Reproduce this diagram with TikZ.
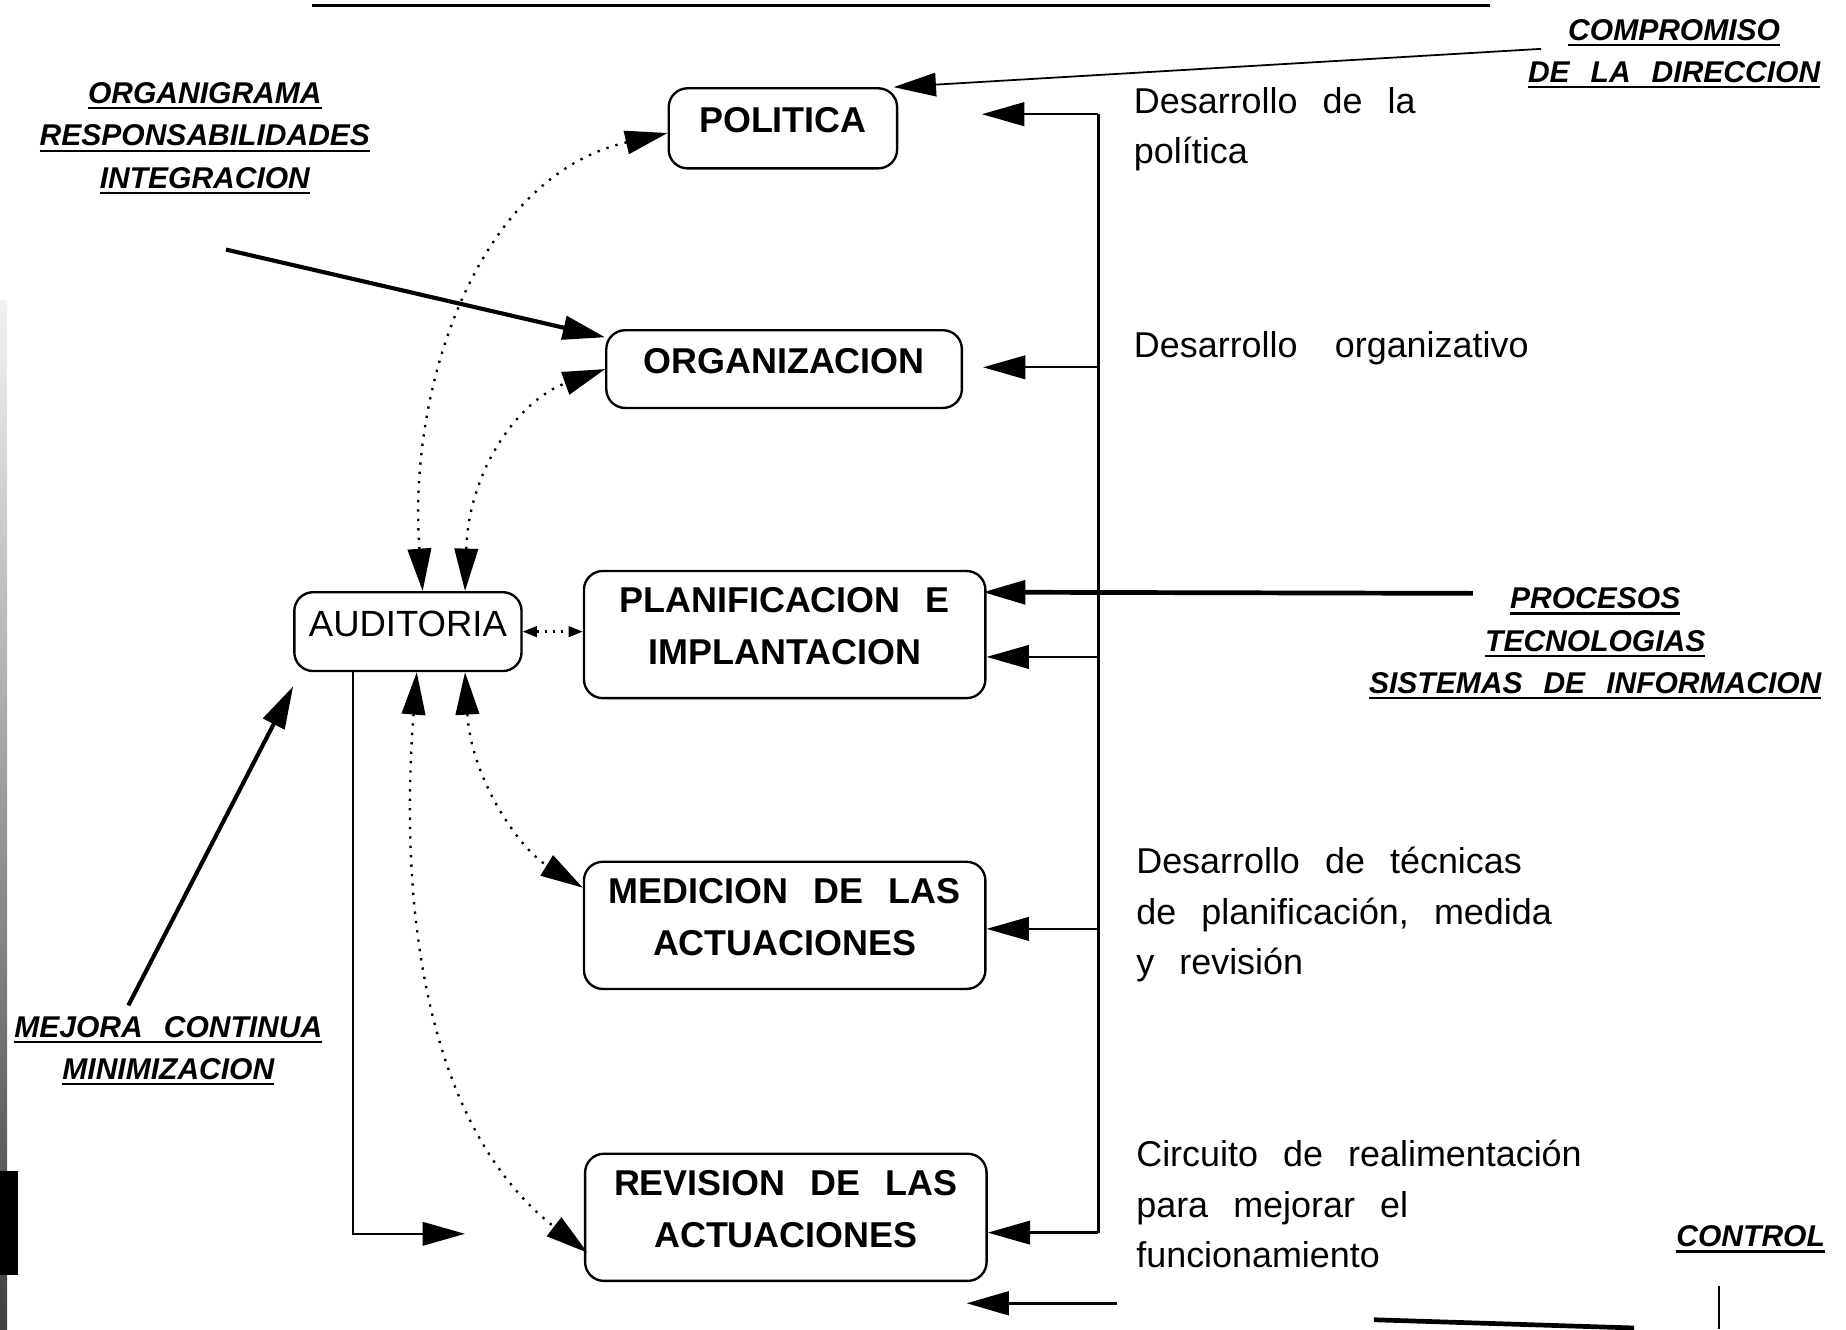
\documentclass[tikz,border=0pt]{standalone}
\usepackage{fontspec}
\setmainfont{Liberation Sans}
\usetikzlibrary{arrows.meta}
\newcommand\gap{\hspace{0.7em}}
\newcommand\myul[1]{\leavevmode\setbox0\hbox{#1}\rlap{\rule[-5pt]{\wd0}{2pt}}\box0}
\newcommand\dstrut{\rule[-14pt]{0pt}{0pt}}
\newcommand\boxfont{\fontsize{30.5}{44}\selectfont\bfseries}
\newcommand\audfont{\fontsize{31}{36}\selectfont}
\newcommand\sidefont{\fontsize{25.5}{36}\selectfont\bfseries\itshape}
\newcommand\descfont{\fontsize{30.5}{43}\selectfont}
\tikzset{
  bigtip/.tip={Triangle[length=36pt,width=20pt]},
  smalltip/.tip={Triangle[length=12pt,width=9pt]},
  procbox/.style={draw, line width=2pt, rounded corners=16pt, inner sep=0pt, align=center, font=\boxfont},
  sidelabel/.style={anchor=base, inner sep=0pt, font=\sidefont},
  desc/.style={anchor=base west, inner sep=0pt, font=\descfont},
  link/.style={line width=2pt},
  thinlink/.style={line width=1.5pt},
  thickarrow/.style={line width=3.5pt, -bigtip},
  dotarrow/.style={line width=2pt, dash pattern=on 2pt off 6pt, bigtip-bigtip},
  smalldot/.style={line width=2pt, dash pattern=on 2pt off 5pt, smalltip-smalltip},
}
\begin{document}
\begin{tikzpicture}[x=1pt,y=-1pt]
\useasboundingbox (0,0) rectangle (1568,1129);

% scan edge artefacts
\shade[top color=black!5, bottom color=black!75] (0,255) rectangle (6,1129);
\fill[black] (0,995) rectangle (15,1083);

% top rule
\draw[line width=2.5pt] (265,5) -- (1266,5);

% boxes
\node[procbox, minimum width=194pt, minimum height=68pt] (pol) at (665,109) {POLITICA\dstrut};
\node[procbox, minimum width=302pt, minimum height=66pt] (org) at (666,313.5) {ORGANIZACION\dstrut};
\node[procbox, minimum width=341pt, minimum height=108pt] (pln) at (666.5,539) {PLANIFICACION\gap E\\IMPLANTACION\dstrut};
\node[procbox, minimum width=341pt, minimum height=108pt] (med) at (666.5,786) {MEDICION\gap DE\gap LAS\\ACTUACIONES\dstrut};
\node[procbox, minimum width=341pt, minimum height=108pt] (rev) at (667.5,1034) {REVISION\gap DE\gap LAS\\ACTUACIONES\dstrut};
\node[procbox, font=\audfont, minimum width=193pt, minimum height=67pt] (aud) at (346.5,536.5) {AUDITORIA\dstrut};

% side labels
\node[sidelabel] (comp1) at (1422,34) {\myul{COMPROMISO}};
\node[sidelabel] (comp2) at (1422,70) {\myul{DE\gap LA\gap DIRECCION}};
\node[sidelabel] (orgl1) at (174,88) {\myul{ORGANIGRAMA}};
\node[sidelabel] (orgl2) at (174,124) {\myul{RESPONSABILIDADES}};
\node[sidelabel] (orgl3) at (174,160) {\myul{INTEGRACION}};
\node[sidelabel] (proc1) at (1355,517) {\myul{PROCESOS}};
\node[sidelabel] (proc2) at (1355,553) {\myul{TECNOLOGIAS}};
\node[sidelabel] (proc3) at (1355,589) {\myul{SISTEMAS\gap DE\gap INFORMACION}};
\node[sidelabel] (mej1) at (143,881) {\myul{MEJORA\gap CONTINUA}};
\node[sidelabel] (mej2) at (143,917) {\myul{MINIMIZACION}};
\node[sidelabel] (ctrl) at (1487,1059) {\myul{CONTROL}};

% descriptions
\node[desc] (d1a) at (963,96) {Desarrollo\gap de\gap la};
\node[desc] (d1b) at (963,139) {política};
\node[desc] (d2) at (963,304) {Desarrollo\hspace{1.04em}organizativo};
\node[desc] (d3a) at (965,742) {Desarrollo\gap de\gap técnicas};
\node[desc] (d3b) at (965,785) {de\gap planificación,\gap medida};
\node[desc] (d3c) at (965,828) {y\gap revisión};
\node[desc] (d4a) at (965,991) {Circuito\gap de\gap realimentación};
\node[desc] (d4b) at (965,1034) {para\gap mejorar\gap el};
\node[desc] (d4c) at (965,1077) {funcionamiento};

% right bus
\coordinate (b1) at (933,97);
\coordinate (b2) at (933,312);
\coordinate (b3) at (933,558);
\coordinate (b4) at (933,789);
\coordinate (b5) at (933,1047);
\coordinate (t1) at (834,97);
\coordinate (t2) at (835,312);
\draw[link] (b1) -- (b5);
\draw[link,-bigtip] (b1) -- (t1);
\draw[link,-bigtip] (b2) -- (t2);
\draw[link,-bigtip] (b3) -- (b3 -| pln.east);
\draw[link,-bigtip] (b4) -- (b4 -| med.east);
\draw[link,-bigtip] (b5) -- (b5 -| rev.east);

% incoming arrows
\coordinate (cstart) at (1309,41.5);
\draw[thinlink,-bigtip] (cstart) -- ([xshift=-4pt]pol.north east);
\coordinate (ostart) at (192,212);
\draw[thickarrow] (ostart) -- ([yshift=-7pt]org.north west);
\coordinate (pstart) at (1251,504);
\draw[line width=4pt,-bigtip] (pstart) -- ([xshift=-3pt,yshift=-19pt]pln.north east);
\coordinate (mstart) at (109,854);
\draw[thickarrow] (mstart) -- ([yshift=-12pt]aud.south west);

% auditoria links
\draw[smalldot] (aud.east) -- (aud.east -| pln.west);
\draw[dotarrow] ([xshift=12.5pt]aud.north) .. controls (346,330) and (405,150) .. ([yshift=-4pt]pol.west);
\draw[dotarrow] ([xshift=48.5pt]aud.north) .. controls (398,400) and (440,340) .. (org.west);
\draw[dotarrow] ([xshift=48.5pt]aud.south) .. controls (400,660) and (440,720) .. ([yshift=-23pt]med.north west);
\draw[dotarrow] ([xshift=7.5pt]aud.south) .. controls (338,780) and (365,960) .. ([xshift=3pt,yshift=25pt]rev.south west);
\coordinate (acorner) at (300,1048);
\coordinate (atip) at (395,1048);
\draw[thinlink,-bigtip] ([xshift=-46.5pt]aud.south) -- (acorner) -- (atip);

% bottom feedback fragments
\coordinate (fa) at (949,1107);
\coordinate (fb) at (821,1107);
\draw[line width=3pt,-bigtip] (fa) -- (fb);
\coordinate (fc) at (1167,1121);
\coordinate (fd) at (1388,1128);
\draw[line width=4pt] (fc) -- (fd);
\coordinate (fe) at (1460,1092);
\coordinate (ff) at (1460,1129);
\draw[line width=2pt] (fe) -- (ff);
\end{tikzpicture}
\end{document}
